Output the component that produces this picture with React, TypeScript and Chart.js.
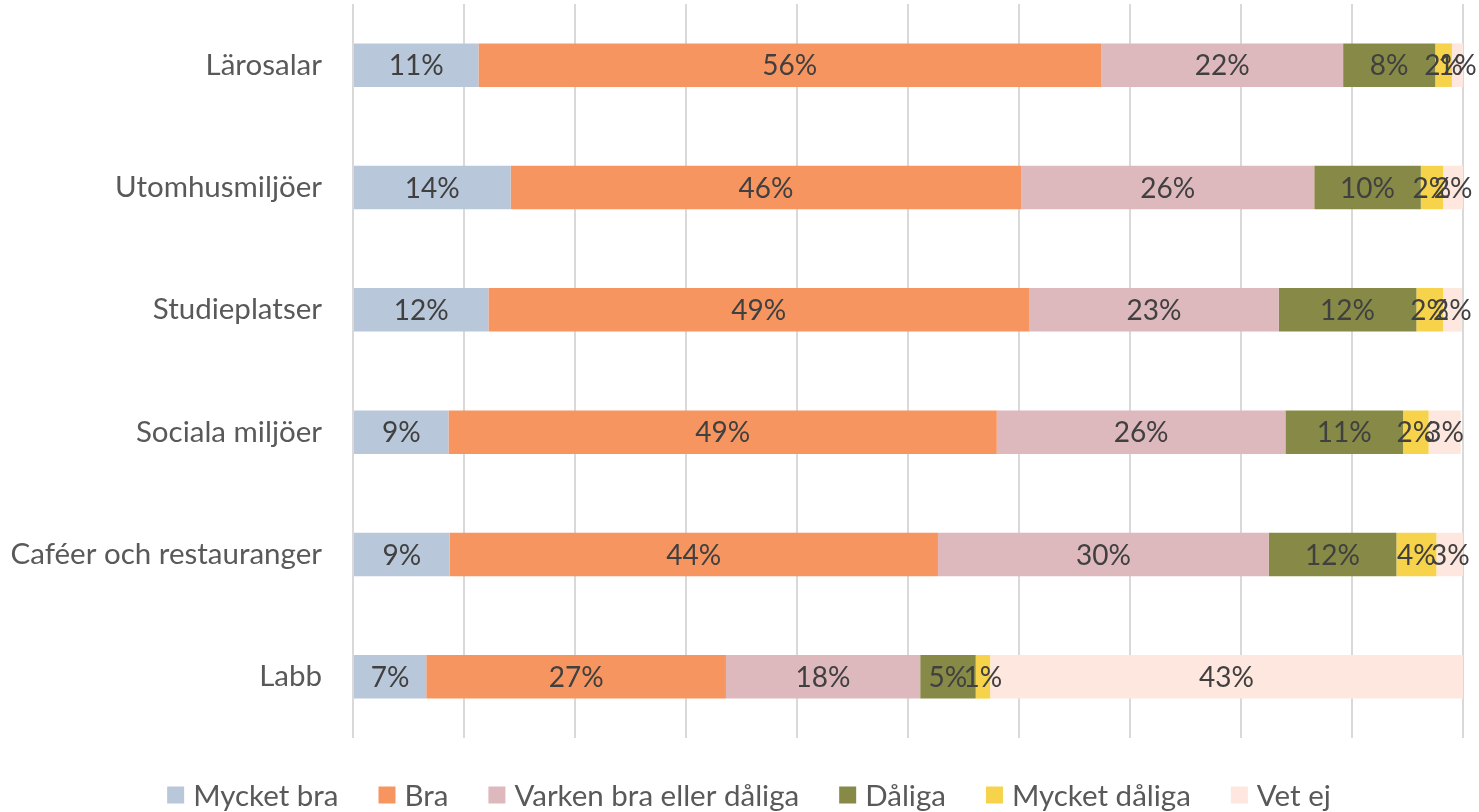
import React, { useEffect, useRef } from "react";
import { Chart, registerables } from "chart.js";

Chart.register(...registerables);

const categories = [
  "Lärosalar",
  "Utomhusmiljöer",
  "Studieplatser",
  "Sociala miljöer",
  "Caféer och restauranger",
  "Labb",
];

const seriesNames = ["Mycket bra", "Bra", "Varken bra eller dåliga", "Dåliga", "Mycket dåliga", "Vet ej"];

const mycketBra = [11.3, 14.2, 12.2, 8.6, 8.7, 6.6];
const bra = [56.1, 46.0, 48.7, 49.4, 44.0, 27.0];
const varken = [21.8, 26.4, 22.5, 26.0, 29.8, 17.5];
const daliga = [8.3, 9.6, 12.4, 10.6, 11.5, 5.0];
const mycketDaliga = [1.5, 2.0, 2.4, 2.3, 3.6, 1.3];
const vetEj = [1.0, 1.8, 1.7, 2.9, 2.5, 42.6];

const colors = ["#B9C7DA", "#F79560", "#DDB8BC", "#868A46", "#F6D34A", "#FDE7DF"];

const FONT = "Lato, 'Open Sans', sans-serif";

const labelPlugin = {
  id: "segLabels",
  afterDatasetsDraw(chart: any) {
    const ctx = chart.ctx;
    ctx.save();
    ctx.font = `28px ${FONT}`;
    ctx.fillStyle = "#404040";
    ctx.textAlign = "center";
    ctx.textBaseline = "middle";
    chart.data.datasets.forEach((ds: any, di: number) => {
      const meta = chart.getDatasetMeta(di);
      meta.data.forEach((el: any, i: number) => {
        const v = ds.data[i];
        const cx = (el.x + el.base) / 2;
        ctx.fillText(Math.round(v) + "%", cx, el.y + 1);
      });
    });
    ctx.restore();
  },
};

const legendPlugin = {
  id: "customLegend",
  afterDraw(chart: any) {
    const ctx = chart.ctx;
    ctx.save();
    ctx.font = `29.5px ${FONT}`;
    ctx.textBaseline = "middle";
    ctx.textAlign = "left";
    const box = 17;
    const gapText = 9;
    const gapItem = 40;
    const widths = chart.data.datasets.map((ds: any) => ctx.measureText(ds.label).width);
    const total =
      widths.reduce((a: number, w: number) => a + box + gapText + w, 0) + gapItem * (widths.length - 1);
    let x = 749 - total / 2;
    const cy = 796;
    chart.data.datasets.forEach((ds: any, i: number) => {
      ctx.fillStyle = ds.backgroundColor;
      ctx.fillRect(x, cy - box / 2 - 1, box, box);
      x += box + gapText;
      ctx.fillStyle = "#595959";
      ctx.fillText(ds.label, x, cy);
      x += widths[i] + gapItem;
    });
    ctx.restore();
  },
};

export default function App() {
  const ref = useRef<HTMLCanvasElement>(null);
  useEffect(() => {
    const series = [mycketBra, bra, varken, daliga, mycketDaliga, vetEj];
    const chart = new Chart(ref.current!, {
      type: "bar",
      data: {
        labels: categories,
        datasets: series.map((d, i) => ({
          label: seriesNames[i],
          data: d,
          backgroundColor: colors[i],
          borderWidth: 0,
          categoryPercentage: 1,
          barPercentage: 0.356,
        })),
      },
      options: {
        indexAxis: "y",
        animation: false,
        responsive: true,
        maintainAspectRatio: false,
        layout: { padding: { top: 4, right: 16, left: 0, bottom: 74 } },
        plugins: {
          legend: { display: false },
          tooltip: { enabled: false },
        },
        scales: {
          x: {
            stacked: true,
            min: 0,
            max: 100,
            ticks: { display: false, stepSize: 10 },
            grid: { color: "#D9D9D9", lineWidth: 2, drawTicks: false },
            border: { display: false },
            afterFit: (s: any) => {
              s.height = 0;
              s.paddingLeft = 0;
              s.paddingRight = 0;
            },
          },
          y: {
            stacked: true,
            ticks: {
              font: { family: FONT, size: 29.5 },
              color: "#595959",
              padding: 31,
            },
            grid: { display: false, drawTicks: false },
            border: { display: false },
            afterFit: (s: any) => {
              s.width = 353;
              s.paddingTop = 0;
              s.paddingBottom = 0;
            },
          },
        },
      },
      plugins: [labelPlugin, legendPlugin],
    });
    return () => chart.destroy();
  }, []);
  return (
    <div style={{ position: "absolute", left: 0, top: 0, width: 1479, height: 812, background: "#fff" }}>
      <canvas ref={ref} />
    </div>
  );
}
